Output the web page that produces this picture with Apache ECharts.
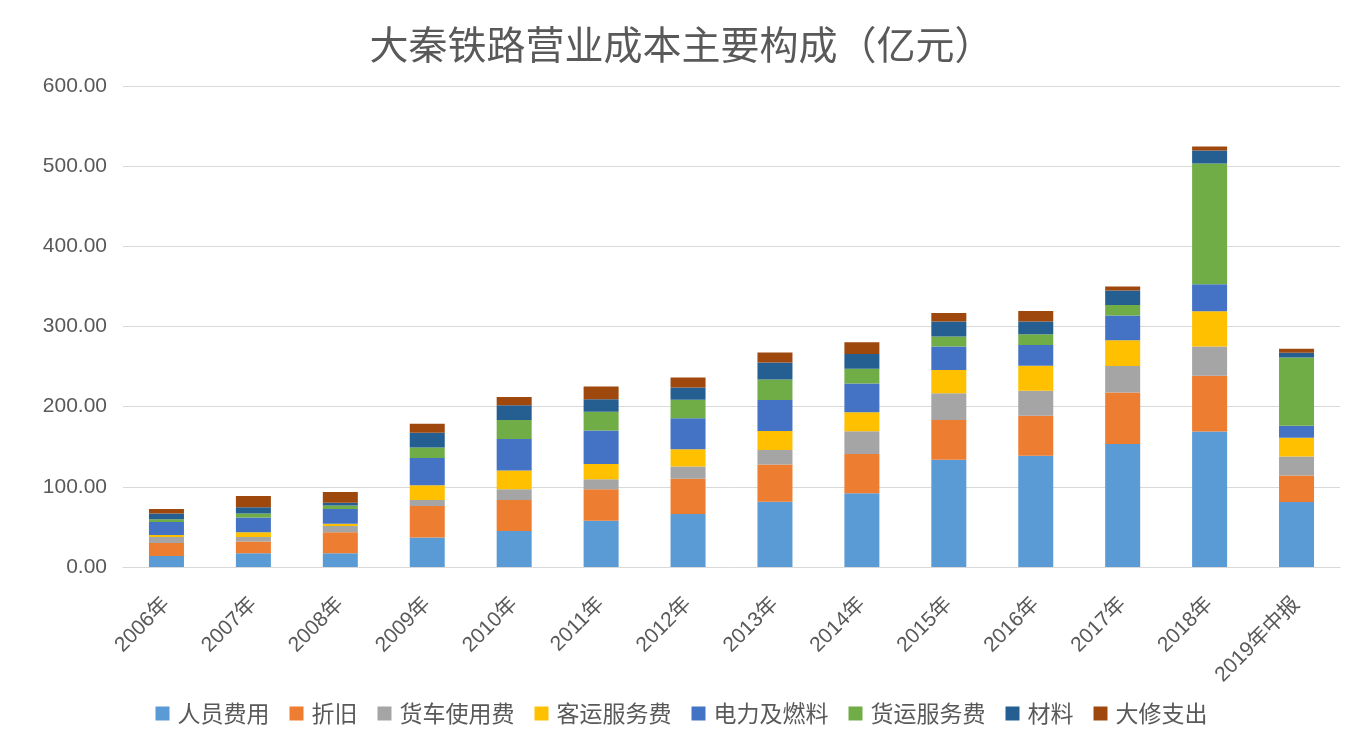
<!DOCTYPE html>
<html>
<head>
<meta charset="utf-8">
<script src="https://cdn.jsdelivr.net/npm/echarts@6/dist/echarts.min.js"></script>
<style>
html,body{margin:0;padding:0;background:#fff;}
#c{width:1363px;height:750px;}
</style>
</head>
<body>
<div id="c"></div>
<script>
const categories = ['2006年','2007年','2008年','2009年','2010年','2011年','2012年','2013年','2014年','2015年','2016年','2017年','2018年','2019年中报'];
const yTicks = [0, 100, 200, 300, 400, 500, 600];
const personnel   = [13.6, 17.0, 17.0, 36.8, 44.8, 57.7, 66.0, 81.3, 92.1, 133.9, 138.9, 153.5, 169.0, 81.0];
const depreciation= [16.2, 14.9, 26.4, 39.4, 38.9, 39.4, 44.0, 46.5, 49.0, 49.4, 49.8, 64.3, 69.6, 33.0];
const wagonUse    = [7.6, 5.5, 7.6, 7.5, 13.4, 12.5, 15.3, 18.2, 28.2, 33.4, 31.0, 33.0, 36.5, 23.7];
const passengerSvc= [2.6, 6.0, 3.0, 18.4, 23.4, 18.9, 21.6, 23.7, 23.7, 28.9, 31.3, 32.0, 44.0, 23.6];
const powerFuel   = [16.2, 18.3, 18.3, 33.9, 39.3, 41.8, 38.6, 38.6, 36.0, 29.3, 26.0, 31.0, 33.7, 15.0];
const freightSvc  = [3.4, 5.1, 4.3, 13.0, 23.5, 23.4, 23.2, 25.7, 18.3, 12.5, 13.4, 13.0, 150.6, 85.0];
const materials   = [7.2, 7.7, 3.4, 18.4, 18.4, 15.5, 15.3, 21.2, 18.3, 18.9, 15.9, 18.0, 16.2, 6.0];
const overhaul    = [5.5, 14.0, 13.6, 11.3, 10.4, 15.9, 12.5, 12.4, 14.9, 10.4, 13.0, 5.0, 5.0, 5.0];

const seriesNames = ['人员费用','折旧','货车使用费','客运服务费','电力及燃料','货运服务费','材料','大修支出'];
const seriesData = [personnel, depreciation, wagonUse, passengerSvc, powerFuel, freightSvc, materials, overhaul];
const colors = ['#5B9BD5','#ED7D31','#A5A5A5','#FFC000','#4472C4','#70AD47','#255E91','#9E480E'];

const chart = echarts.init(document.getElementById('c'));
chart.setOption({
  animation: false,
  color: colors,
  title: {
    text: '大秦铁路营业成本主要构成（亿元）',
    left: 'center',
    top: 20,
    textStyle: {fontFamily: 'Noto Sans CJK SC', fontSize: 39, fontWeight: 'normal', color: '#595959'}
  },
  legend: {
    bottom: 20,
    left: 'center',
    itemWidth: 14,
    itemHeight: 14,
    itemGap: 20,
    icon: 'rect',
    textStyle: {fontFamily: 'Noto Sans CJK SC', fontSize: 23, color: '#595959', padding: [0, 0, 0, 3]},
    data: seriesNames
  },
  grid: {left: 123, right: 23, top: 86, bottom: 183, containLabel: false},
  xAxis: {
    type: 'category',
    data: categories,
    axisLine: {lineStyle: {color: '#D9D9D9'}},
    axisTick: {show: false},
    axisLabel: {
      rotate: 45,
      margin: 34,
      interval: 0,
      fontFamily: 'Liberation Sans, Noto Sans CJK SC',
      fontSize: 21,
      color: '#595959'
    }
  },
  yAxis: {
    type: 'value',
    min: yTicks[0],
    max: yTicks[yTicks.length - 1],
    interval: 100,
    axisLine: {show: false},
    axisTick: {show: false},
    splitLine: {lineStyle: {color: '#D9D9D9', width: 1}},
    axisLabel: {
      margin: 16,
      fontFamily: 'Liberation Sans',
      fontSize: 21,
      color: '#595959',
      formatter: v => v.toFixed(2)
    }
  },
  series: seriesNames.map((n, i) => ({
    name: n,
    type: 'bar',
    stack: 'total',
    barWidth: 35,
    data: seriesData[i]
  }))
});
</script>
</body>
</html>
